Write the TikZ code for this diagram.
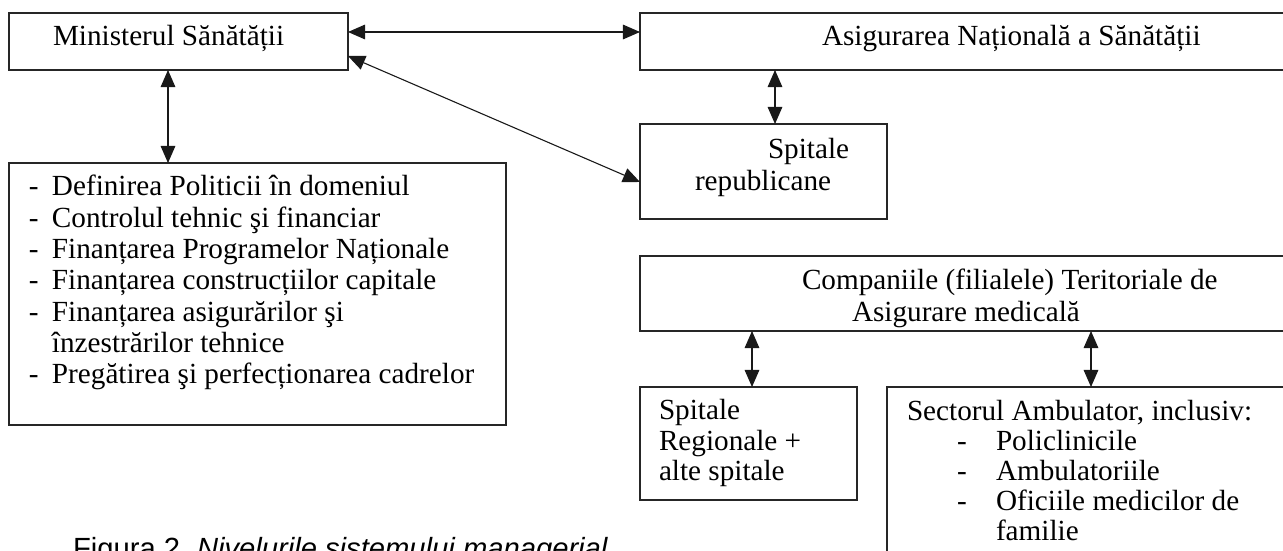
\documentclass[tikz,border=0pt]{standalone}
\usepackage{fontspec}
\setmainfont{Liberation Serif}
\newfontfamily\capfont{Liberation Sans}
\usetikzlibrary{arrows.meta,fit}
\begin{document}
\begin{tikzpicture}[x=0.411pt,y=-0.411pt,
  box/.style={draw=black!85, line width=0.55pt, inner sep=0pt, outer sep=0pt},
  txt/.style={anchor=base west, inner sep=0pt, outer sep=0pt, font=\fontsize{12}{14}\selectfont},
  captxt/.style={anchor=base west, inner sep=0pt, outer sep=0pt, font=\capfont\fontsize{12}{14}\selectfont},
  mytip/.tip={Triangle[length=7pt,width=6pt]},
  link/.style={line width=0.45pt, draw=black!90, mytip-mytip}]
\useasboundingbox (0,0) rectangle (1283,551);
\clip (0,0) rectangle (1283,551);
% boxes
\node[box, fit={(9,13) (348,70)}] (min) {};
\node[box, fit={(640,13) (1295,70)}] (asig) {};
\node[box, fit={(640,124) (887,219)}] (sprep) {};
\node[box, fit={(9,163) (506,425)}] (lista) {};
\node[box, fit={(640,256) (1295,331)}] (comp) {};
\node[box, fit={(640,387) (857,500)}] (sreg) {};
\node[box, fit={(887,387) (1295,600)}] (amb) {};
% texts
\node[txt] (tmin) at (53,46) {Ministerul Sănătății};
\node[txt] (tasig) at (822,46) {Asigurarea Națională a Sănătății};
\node[txt] (tsp1) at (768,159) {Spitale};
\node[txt] (tsp2) at (695,191) {republicane};
\foreach \i/\t in {0/{Definirea Politicii în domeniul},1/{Controlul tehnic şi financiar},2/{Finanțarea Programelor Naționale},3/{Finanțarea construcțiilor capitale},4/{Finanțarea asigurărilor şi},6/{Pregătirea şi perfecționarea cadrelor}}{
  \node[txt] (ld\i) at (29,196+31.3*\i) {-};
  \node[txt] (lt\i) at (52,196+31.3*\i) {\t};
}
\node[txt] (lt5) at (52,196+31.3*5) {înzestrărilor tehnice};
\begin{scope}
\clip (640,256) rectangle (1295,331);
\node[txt] (tc1) at (802,290) {Companiile (filialele) Teritoriale de};
\node[txt] (tc2) at (852,322) {Asigurare medicală};
\end{scope}
\node[txt] (tr1) at (659,420) {Spitale};
\node[txt] (tr2) at (659,451) {Regionale +};
\node[txt] (tr3) at (659,481) {alte spitale};
\node[txt] (ta0) at (907,421) {Sectorul Ambulator, inclusiv:};
\node[txt] (ad1) at (957,451) {-};
\node[txt] (at1) at (996,451) {Policlinicile};
\node[txt] (ad2) at (957,481) {-};
\node[txt] (at2) at (996,481) {Ambulatoriile};
\node[txt] (ad3) at (957,511) {-};
\node[txt] (at3) at (996,511) {Oficiile medicilor de};
\node[txt] (at4) at (996,541) {familie};
\node[captxt] (cap1) at (73,558) {Figura 2.};
\node[captxt] (cap2) at (197,558) {\itshape Nivelurile sistemului managerial};
% connectors
\draw[link] (min.east |- 0,32) -- (asig.west |- 0,32);
\draw[link] (min.south -| 168,0) -- (lista.north -| 168,0);
\draw[link] (asig.south -| 775,0) -- (sprep.north -| 775,0);
\draw[link] (min.east |- 0,56) -- (sprep.west |- 0,182);
\draw[link] (comp.south -| 752,0) -- (sreg.north -| 752,0);
\draw[link] (comp.south -| 1091,0) -- (amb.north -| 1091,0);
\end{tikzpicture}
\end{document}
